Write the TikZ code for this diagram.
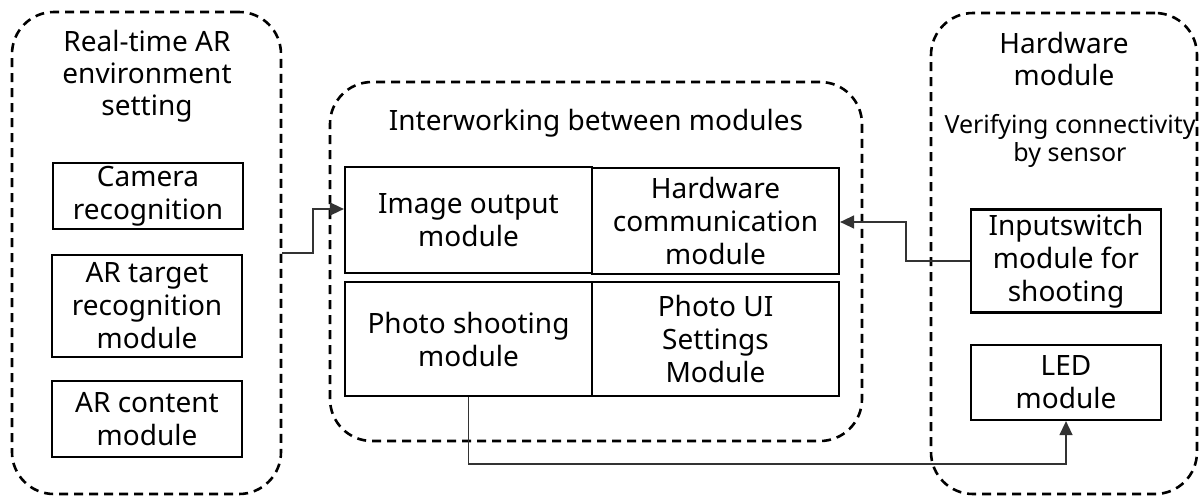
\documentclass[tikz,border=0pt]{standalone}
\usepackage{fontspec}
\setmainfont{Noto Sans}
\usetikzlibrary{arrows.meta}
\tikzset{
  grp/.style={draw, line width=2.6pt, dash pattern=on 9pt off 6pt, rounded corners=42pt, inner sep=0pt},
  modbox/.style={draw, line width=2.2pt, inner sep=0pt, align=center, font=\fontsize{28}{33}\selectfont},
  title/.style={align=center, inner sep=0pt, font=\fontsize{28}{32}\selectfont},
  subtitle/.style={align=center, inner sep=0pt, font=\fontsize{25}{28}\selectfont},
  conn/.style={line width=1.4pt, draw=black!80},
  tip/.style={-{Triangle[length=14pt,width=13pt]}}
}
\begin{document}
\begin{tikzpicture}[x=1pt,y=-1pt]
\useasboundingbox (0,0) rectangle (1201,496);
% groups
\node[grp, minimum width=269pt, minimum height=482pt] (grpL) at (146.5,253) {};
\node[grp, minimum width=532pt, minimum height=359pt] (grpM) at (596,261.5) {};
\node[grp, minimum width=266pt, minimum height=481pt] (grpR) at (1064,253.5) {};
% group titles
\node[title] (tL) at (147,76) {Real-time AR\\environment\\setting};
\node[title] (tM) at (596,123) {Interworking between modules};
\node[title] (tR) at (1064,58.5) {Hardware\\module};
\node[subtitle] (sR) at (1070,141) {Verifying connectivity\\by sensor};
% left boxes
\node[modbox, minimum width=190pt, minimum height=66pt] (cam) at (148,196) {Camera\\recognition};
\node[modbox, minimum width=190pt, minimum height=102pt] (art) at (147,306) {AR target\\recognition\\module};
\node[modbox, minimum width=190pt, minimum height=76pt] (arc) at (147,419) {AR content\\module};
% middle table
\node[modbox, minimum width=247pt, minimum height=106pt] (imgout) at (468.5,220) {Image output\\module};
\node[modbox, minimum width=247pt, minimum height=106pt] (hwcomm) at (715.5,221) {Hardware\\communication\\module};
\node[modbox, minimum width=247pt, minimum height=114pt] (photo) at (468.5,339) {Photo shooting\\module};
\node[modbox, minimum width=247pt, minimum height=114pt] (ui) at (715.5,339) {Photo UI\\Settings\\Module};
% right boxes
\node[modbox, minimum width=190pt, minimum height=103pt] (inp) at (1066,261) {Inputswitch\\module for\\shooting};
\node[modbox, minimum width=190pt, minimum height=75pt] (led) at (1066,382.5) {LED\\module};
% connectors
\coordinate (c1) at (313,209);
\coordinate (c2) at (906,222);
\coordinate (c3) at (0,464);
\draw[conn, tip] (grpL.east) -| (c1) -- (imgout.west |- c1);
\draw[conn, tip] (inp.west) -| (c2) -- (hwcomm.east |- c2);
\draw[conn, tip] (photo.south) -- (photo.south |- c3) -| (led.south);
\end{tikzpicture}
\end{document}
